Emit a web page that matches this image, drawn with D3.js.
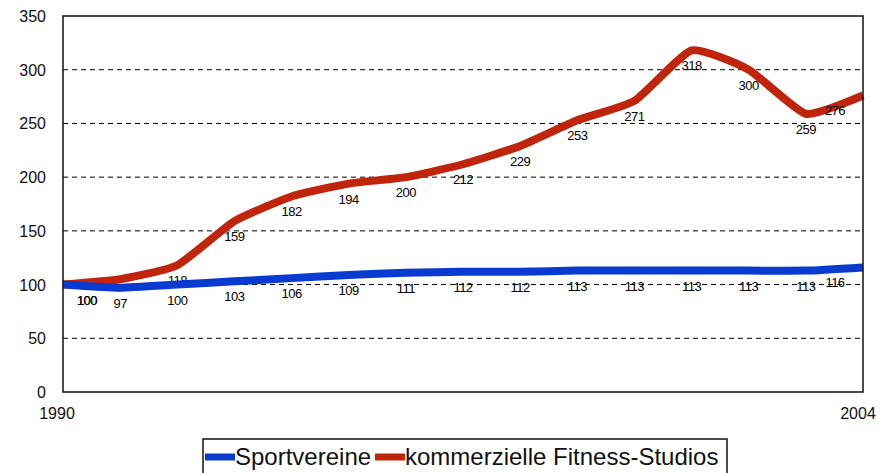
<!DOCTYPE html>
<html>
<head>
<meta charset="utf-8">
<script src="https://cdn.jsdelivr.net/npm/d3@7"></script>
<style>
  body { margin: 0; background: #fff; }
  svg { font-family: 'Liberation Sans', Arial, sans-serif; }
</style>
</head>
<body>
<svg class="chart" width="887" height="473"></svg>
<script>
const years = [1990, 1991, 1992, 1993, 1994, 1995, 1996, 1997, 1998, 1999, 2000, 2001, 2002, 2003, 2004];
const sportvereine = [100, 97, 100, 103, 106, 109, 111, 112, 112, 113, 113, 113, 113, 113, 116];
const fitness = [100, 105, 118, 159, 182, 194, 200, 212, 229, 253, 271, 318, 300, 259, 276];
const yTicks = [0, 50, 100, 150, 200, 250, 300, 350];
const xTickLabels = [1990, 2004];

const margin = {top: 16, right: 24, bottom: 81, left: 63};
const svgWidth = 887, svgHeight = 473;
const width = svgWidth - margin.left - margin.right;
const height = svgHeight - margin.top - margin.bottom;

const svg = d3.select('svg.chart');
const g = svg.append('g').attr('transform', `translate(${margin.left}, ${margin.top})`);

const x = d3.scaleLinear().domain([1990, 2004]).range([0, width]);
const y = d3.scaleLinear().domain([0, 350]).range([height, 0]);

// dashed grid
g.selectAll('line.grid')
  .data(yTicks.filter(d => d > 0 && d < 350))
  .enter()
  .append('line')
  .attr('class', 'grid')
  .attr('x1', 0).attr('x2', width)
  .attr('y1', d => y(d)).attr('y2', d => y(d))
  .style('stroke', '#000')
  .style('stroke-width', 1)
  .style('stroke-dasharray', '5,4');

// y labels
g.selectAll('text.ylab')
  .data(yTicks)
  .enter()
  .append('text')
  .attr('class', 'ylab')
  .attr('x', -17)
  .attr('y', d => y(d) + 6)
  .attr('text-anchor', 'end')
  .style('font-size', '16px')
  .style('fill', '#111')
  .text(d => d);

// x labels
g.selectAll('text.xlab')
  .data(xTickLabels)
  .enter()
  .append('text')
  .attr('class', 'xlab')
  .attr('x', d => x(d) + (d === 1990 ? -6 : -5))
  .attr('y', height + 27)
  .attr('text-anchor', 'middle')
  .style('font-size', '16px')
  .style('fill', '#111')
  .text(d => d);

const line = d3.line()
  .x((d, i) => x(years[i]))
  .y(d => y(d))
  .curve(d3.curveCardinal.tension(0.5));

const labelX = i => Math.max(24, Math.min(width - 28, x(years[i])));

// labels that would sit under the other series' line are hidden (as in the original)
function drawLabels(vals, other, cls) {
  const items = vals.map((v, i) => ({v: v, i: i}))
    .filter(d => {
      const gap = Math.abs(y(d.v) - y(other[d.i]));
      return gap === 0 || gap > 12;
    });
  g.selectAll('text.' + cls)
    .data(items)
    .enter()
    .append('text')
    .attr('class', cls)
    .attr('x', d => labelX(d.i))
    .attr('y', d => y(d.v) + 20)
    .attr('text-anchor', 'middle')
    .style('font-size', '13px')
    .style('letter-spacing', '-0.5px')
    .style('fill', '#000')
    .text(d => d.v);
}

// red series
g.append('path')
  .datum(fitness)
  .attr('d', line)
  .style('fill', 'none')
  .style('stroke', '#c0250b')
  .style('stroke-width', 8)
  .style('stroke-linejoin', 'round');
drawLabels(fitness, sportvereine, 'redLab');

// blue series
g.append('path')
  .datum(sportvereine)
  .attr('d', line)
  .style('fill', 'none')
  .style('stroke', '#0a3bd0')
  .style('stroke-width', 8)
  .style('stroke-linejoin', 'round');
drawLabels(sportvereine, sportvereine, 'blueLab');

// plot frame
g.append('rect')
  .attr('x', 0).attr('y', 0)
  .attr('width', width).attr('height', height)
  .style('fill', 'none')
  .style('stroke', '#111')
  .style('stroke-width', 1.5);

// legend
const legend = svg.append('g').attr('transform', 'translate(203, 439)');
legend.append('rect')
  .attr('x', 0).attr('y', 0)
  .attr('width', 524).attr('height', 45)
  .style('fill', '#fff')
  .style('stroke', '#111')
  .style('stroke-width', 1.5);

const legendItems = [
  {name: 'Sportvereine', color: '#0a3bd0', x: 2},
  {name: 'kommerzielle Fitness-Studios', color: '#c0250b', x: 172}
];
const li = legend.selectAll('g.item')
  .data(legendItems)
  .enter()
  .append('g')
  .attr('class', 'item')
  .attr('transform', d => `translate(${d.x}, 0)`);
li.append('line')
  .attr('x1', 0).attr('x2', 30)
  .attr('y1', 18).attr('y2', 18)
  .style('stroke', d => d.color)
  .style('stroke-width', 7);
li.append('text')
  .attr('x', 30)
  .attr('y', 26)
  .style('font-size', '24px')
  .style('fill', '#111')
  .text(d => d.name);
</script>
</body>
</html>
